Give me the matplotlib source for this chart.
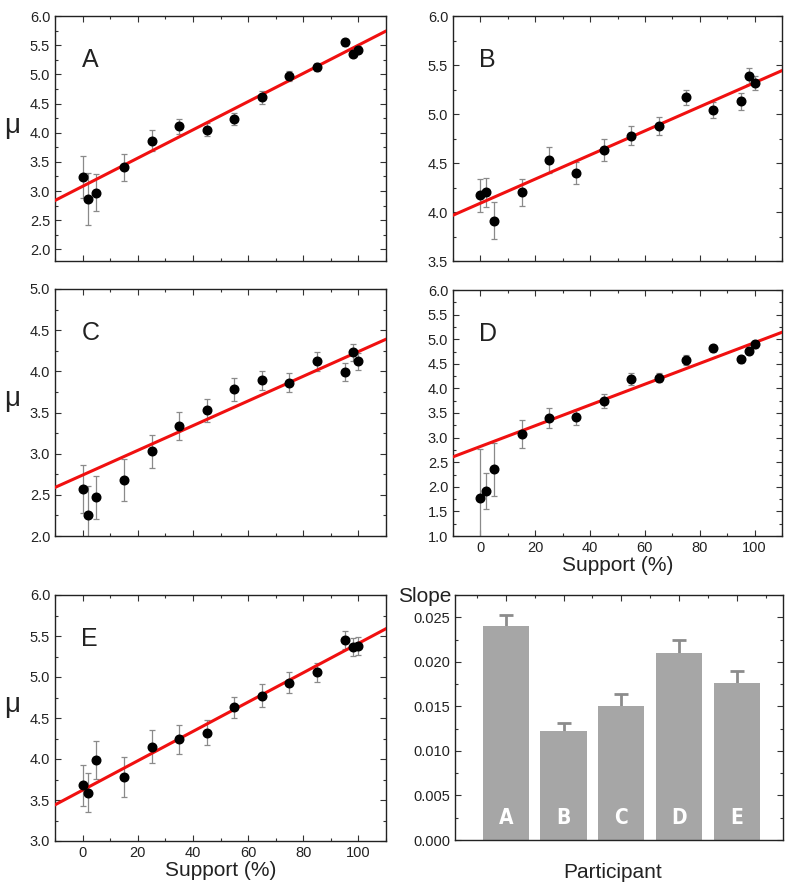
import numpy as np
import matplotlib as mpl
mpl.use('Agg')
import matplotlib.pyplot as plt
from matplotlib.ticker import MultipleLocator

plt.rcParams['font.family'] = ['Liberation Sans', 'DejaVu Sans']

# support levels (%) shared by all participants
support = [0, 2, 5, 15, 25, 35, 45, 55, 65, 75, 85, 95, 98, 100]

mu_A = [3.24, 2.86, 2.97, 3.41, 3.86, 4.11, 4.05, 4.24, 4.61, 4.97, 5.12, 5.55, 5.35, 5.42]
err_A = [0.36, 0.45, 0.32, 0.23, 0.18, 0.13, 0.11, 0.10, 0.11, 0.08, 0.07, 0.06, 0.06, 0.06]
mu_B = [4.17, 4.20, 3.91, 4.20, 4.53, 4.40, 4.63, 4.78, 4.88, 5.17, 5.04, 5.13, 5.39, 5.32]
err_B = [0.17, 0.15, 0.19, 0.14, 0.13, 0.11, 0.11, 0.10, 0.09, 0.08, 0.08, 0.085, 0.08, 0.07]
mu_C = [2.57, 2.25, 2.47, 2.68, 3.03, 3.34, 3.53, 3.78, 3.89, 3.86, 4.12, 3.99, 4.23, 4.12]
err_C = [0.29, 0.36, 0.26, 0.26, 0.20, 0.17, 0.14, 0.14, 0.12, 0.115, 0.11, 0.11, 0.10, 0.10]
mu_D = [1.77, 1.92, 2.36, 3.07, 3.40, 3.41, 3.74, 4.19, 4.22, 4.57, 4.82, 4.59, 4.77, 4.90]
err_D = [1.00, 0.37, 0.54, 0.29, 0.20, 0.16, 0.14, 0.12, 0.10, 0.10, 0.07, 0.07, 0.07, 0.07]
mu_E = [3.68, 3.59, 3.99, 3.78, 4.15, 4.24, 4.32, 4.63, 4.77, 4.93, 5.06, 5.45, 5.37, 5.38]
err_E = [0.25, 0.24, 0.23, 0.24, 0.20, 0.18, 0.15, 0.13, 0.14, 0.13, 0.115, 0.11, 0.11, 0.11]

# fitted lines: intercept, slope
fit_int = [3.08, 4.09, 2.74, 2.82, 3.62]
fit_slope = [0.0242, 0.0123, 0.0150, 0.0211, 0.0179]

participants = ['A', 'B', 'C', 'D', 'E']
slopes = [0.0240, 0.01225, 0.0150, 0.0210, 0.0176]
slope_err = [0.0013, 0.0009, 0.0014, 0.0015, 0.0014]

mus = [mu_A, mu_B, mu_C, mu_D, mu_E]
errs = [err_A, err_B, err_C, err_D, err_E]
ylims = [(1.8, 6.0), (3.5, 6.0), (2.0, 5.0), (1.0, 6.0), (3.0, 6.0)]

W, H = 787, 889
# axes boxes in pixels: left, top, right, bottom
boxes = [(55, 16, 386, 261), (453, 16, 782, 261),
         (55, 289, 386, 536), (453, 290, 782, 536),
         (55, 595, 386, 841)]
bar_box = (455, 595, 783, 840)


def px_axes(fig, b):
    l, t, r, bt = b
    return fig.add_axes([l / W, 1 - bt / H, (r - l) / W, (bt - t) / H])


def style(ax):
    ax.tick_params(which='both', direction='in', top=True, right=True, labelsize=10.5,
                   colors='#333333', labelcolor='#222222')
    ax.tick_params(which='major', length=4, width=0.8)
    ax.tick_params(which='minor', length=2.5, width=0.8)
    for s in ax.spines.values():
        s.set_linewidth(1.0)
        s.set_color('#222222')


fig = plt.figure(figsize=(W / 100, H / 100), dpi=100)

for i in range(5):
    ax = px_axes(fig, boxes[i])
    ax.errorbar(support, mus[i], yerr=errs[i], fmt='none', ecolor='#8a8a8a',
                elinewidth=0.9, capsize=2.5, capthick=0.9, zorder=2)
    ax.plot(support, mus[i], 'o', color='black', markersize=6.2, zorder=4)
    xs = np.array([-10, 110])
    ax.plot(xs, fit_int[i] + fit_slope[i] * xs, color='#f01010', lw=2.2, zorder=3)
    ax.set_xlim(-10, 110)
    ax.set_ylim(*ylims[i])
    ax.xaxis.set_major_locator(MultipleLocator(20))
    ax.xaxis.set_minor_locator(MultipleLocator(10))
    ax.yaxis.set_major_locator(MultipleLocator(0.5))
    ax.yaxis.set_minor_locator(MultipleLocator(0.25))
    style(ax)
    ax.text(0.08, 0.82, participants[i], transform=ax.transAxes, fontsize=18,
            ha='left', va='center', color='#222222')
    if i in (0, 2, 4):
        ax.set_ylabel('μ', rotation=0, fontsize=20, color='#222222')
        ax.yaxis.set_label_coords(-0.13, 0.5)
    if i in (3, 4):
        ax.set_xlabel('Support (%)', fontsize=15, labelpad=1, color='#222222')
    else:
        ax.set_xticklabels([])

# slope bar chart
ax = px_axes(fig, bar_box)
pos = np.arange(1, 6)
tops = np.array(slopes) + np.array(slope_err)
ax.vlines(pos, slopes, tops, color='#8c8c8c', lw=2, zorder=1)
ax.plot(pos, tops, linestyle='none', marker='_', markersize=10, markeredgewidth=2,
        color='#8c8c8c', zorder=1)
ax.bar(pos, slopes, width=0.8, color='#a6a6a6', zorder=2)
for p, name in zip(pos, participants):
    ax.text(p, 0.0025, name, ha='center', va='center', color='white', fontsize=15,
            fontweight='bold', family='DejaVu Sans', fontstretch='condensed')
ax.set_xlim(0.12, 5.8)
ax.set_ylim(0, 0.0275)
ax.yaxis.set_major_locator(MultipleLocator(0.005))
ax.yaxis.set_minor_locator(MultipleLocator(0.0025))
ax.yaxis.set_major_formatter(mpl.ticker.FormatStrFormatter('%.3f'))
ax.set_xticks(pos)
ax.xaxis.set_minor_locator(MultipleLocator(0.5))
style(ax)
ax.tick_params(which='both', bottom=False, labelbottom=False)
fig.text(398 / W, 1 - 597 / H, 'Slope', fontsize=15, ha='left', va='center', color='#222222')
fig.text(613 / W, 1 - 873 / H, 'Participant', fontsize=15, ha='center', va='center',
         color='#222222')

fig.savefig('out.png', dpi=100)
